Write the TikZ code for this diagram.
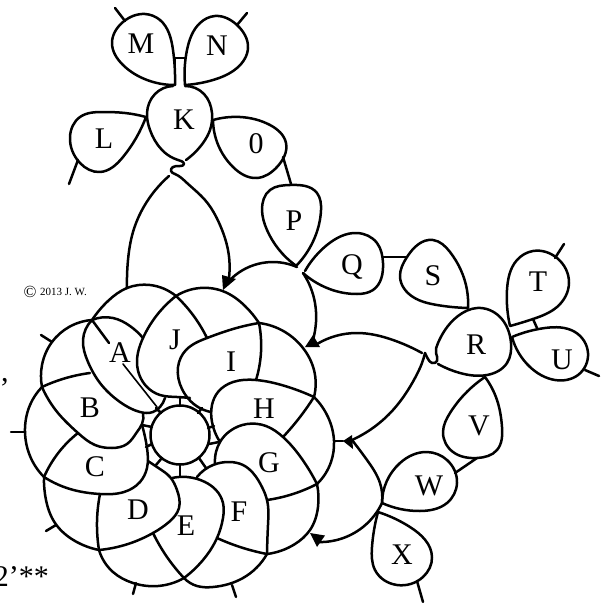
\documentclass[tikz,border=0pt]{standalone}
\usepackage{fontspec}
\setmainfont{Liberation Serif}
\usetikzlibrary{hobby}
\tikzset{
  ln/.style={draw=black,line width=2.5pt,line cap=round,line join=round,use Hobby shortcut},
  lab/.style={font=\fontsize{30}{32}\selectfont,inner sep=0pt,text=black},
  head/.style={fill=black,draw=none}
}
\begin{document}
\begin{tikzpicture}[x=1pt,y=-1pt]
\useasboundingbox (0,0) rectangle (610,602);
\clip (0,0) rectangle (610,602);
\fill[white] (0,0) rectangle (610,602);
% outer arcs of the wreath
\draw[ln] (92,320) .. (108,301) .. (127,288) .. (150,285) .. (176,296);
\draw[ln] (92,320) .. (69,327) .. (52,342) .. (42,365) .. (42,387);
\draw[ln] (42,387) .. (30,405) .. (25,432) .. (30,456) .. (44,477);
\draw[ln] (44,477) .. (46,500) .. (55,523) .. (75,541) .. (99,550);
\draw[ln] (99,550) .. (113,572) .. (133,583) .. (158,586) .. (184,578);
\draw[ln] (184,578) .. (197,586) .. (213,587) .. (243,578) .. (267,554);
\draw[ln] (267,554) .. (295,544) .. (310,530) .. (318,507) .. (317,484);
\draw[ln] (317,484) .. (331,462) .. (334,441) .. (328,417) .. (314,397);
\draw[ln] (314,397) .. (314,370) .. (303,348) .. (285,332) .. (259,323);
\draw[ln] (259,323) .. (245,306) .. (225,292) .. (200,288) .. (176,296);
% petals
\draw[ln] (92,320) .. (83,340) .. (88,362) .. (100,383) .. (120,402) .. (140,412) .. (153,412) .. (160,407) .. (165,398);
\draw[ln] (92,320) .. (113,318) .. (130,326) .. (143,338);
\draw[ln] (176,296) .. (157,315) .. (143,338) .. (137,363) .. (147,387) .. (160,395) .. (177,397) .. (190,398);
\draw[ln] (176,296) .. (193,315) .. (207,338);
\draw[ln] (259,323) .. (233,329) .. (207,338) .. (186,350) .. (178,367) .. (182,389) .. (198,407) .. (211,412);
\draw[ln] (259,323) .. (261,352) .. (256,380);
\draw[ln] (314,397) .. (285,386) .. (256,380) .. (233,382) .. (218,392) .. (212,405) .. (212,422) .. (220,442);
\draw[ln] (314,397) .. (300,417) .. (283,437);
\draw[ln] (317,484) .. (302,459) .. (283,437) .. (266,426) .. (247,424) .. (230,431) .. (220,442) .. (216,452) .. (215,464);
\draw[ln] (317,484) .. (293,494) .. (267,500);
\draw[ln] (267,554) .. (268,525) .. (267,500) .. (262,487) .. (253,473) .. (243,465) .. (230,462) .. (213,465) .. (197,477);
\draw[ln] (267,554) .. (240,547) .. (217,538);
\draw[ln] (184,578) .. (203,560) .. (217,538) .. (223,518) .. (223,503) .. (216,490) .. (205,482) .. (187,477) .. (172,478);
\draw[ln] (184,578) .. (167,557) .. (153,533);
\draw[ln] (99,550) .. (128,544) .. (153,533) .. (169,522) .. (179,508) .. (177,490) .. (170,477) .. (160,469) .. (148,461);
\draw[ln] (99,550) .. (97,522) .. (100,494);
\draw[ln] (44,477) .. (70,489) .. (100,494) .. (124,492) .. (140,482) .. (147,468) .. (147,448) .. (142,425);
\draw[ln] (44,477) .. (59,452) .. (78,433);
\draw[ln] (42,387) .. (58,413) .. (78,433) .. (95,445) .. (112,448) .. (127,444) .. (137,432) .. (142,424) .. (143,413);
\draw[ln] (42,387) .. (66,378) .. (90,373);
% line through A
\draw[ln] (92,320) -- (109,343);
\draw[ln,line width=1.6pt] (123,364) -- (157,407);
% central circle and spokes
\draw[ln] (180,435) circle[radius=29.5];
\foreach \xa/\ya/\xb/\yb in {
  180/406/180/398, 198/413/202/408, 208/428/214/426, 209/444/219/442,
  199/458/206/468, 180/465/180/476, 161/459/156/465, 152/444/146/447,
  152/427/142/425, 161/413/156/408}{
  \draw[ln] (\xa,\ya) -- (\xb,\yb);
}
% stubs of the wreath
\draw[ln] (52,342) -- (41,335);
\draw[ln] (25,432) -- (11,432);
\draw[ln] (56,525) -- (46,531);
\draw[ln] (136,583) -- (133,594);
\draw[ln] (232,585) -- (236,597);
% top group: K, knot and big loop
\draw[ln] (173,86) .. (155,94) .. (147,113) .. (150,130) .. (162,150) .. (173,158) .. (181,161) .. (184,164) .. (180,166) .. (173,167) .. (171,171) .. (175,174) .. (187,183) .. (205,200) .. (220,225) .. (228,250) .. (229,278);
\draw[ln] (185,86) .. (204,94) .. (212,113) .. (210,130) .. (203,143) .. (186,160);
\draw[ln] (169,176) .. (148,200) .. (133,232) .. (128,260) .. (127,288);
% M N L 0
\draw[ln] (175,85) .. (173,50) .. (160,20) .. (145,14) .. (123,22) .. (112,43) .. (123,65) .. (147,80) .. (175,85);
\draw[ln] (185,85) .. (187,50) .. (200,23) .. (215,16) .. (237,25) .. (248,48) .. (237,68) .. (213,80) .. (185,85);
\draw[ln] (174.5,58) -- (185.5,58);
\draw[ln] (175,58) -- (175,85);
\draw[ln] (185,58) -- (185,85);
\draw[ln] (125,21) -- (115,8);
\draw[ln] (237,25) -- (247,13);
\draw[ln] (146,117) .. (125,113) .. (103,112) .. (80,117) .. (70,137) .. (80,163) .. (100,172) .. (123,157) .. (146,117);
\draw[ln] (78,160) -- (69,184);
\draw[ln] (213,120) .. (240,117) .. (270,125) .. (286,143) .. (277,167) .. (257,178) .. (233,167) .. (213,120);
\draw[ln] (283,157) -- (291,184);
% P Q S
\draw[ln] (295,265) .. (267,230) .. (262,210) .. (270,190) .. (290,185) .. (317,193) .. (321,210) .. (315,237) .. (297,265);
\draw[ln] (305,271) .. (327,245) .. (357,233) .. (377,243) .. (383,263) .. (373,290) .. (357,294) .. (327,288) .. (303,273);
\draw[ln] (383,257) -- (407,257);
\draw[ln] (468,308) .. (467,290) .. (450,252) .. (433,240) .. (407,257) .. (400,277) .. (413,297) .. (437,305) .. (468,308);
% arcs toward wreath
\draw[ln] (297,267) .. (262,263) .. (232,278);
\draw[ln] (303,273) .. (315,303) .. (316,322) .. (313,340);
% R and its knot
\draw[ln] (438,364) .. (460,373) .. (487,375) .. (507,363) .. (511,343) .. (500,317) .. (477,308) .. (458,316) .. (445,330) .. (438,343) .. (436,353) .. (437,361) .. (432,363) .. (428,359) .. (425,353);
\draw[ln] (425,353) .. (422,363) .. (415,378) .. (393,410) .. (352,440);
\draw[ln] (422,353) .. (393,340) .. (357,333) .. (317,344);
% T U
\draw[ln] (510,326) .. (507,290) .. (517,260) .. (533,251) .. (557,258) .. (569,283) .. (557,307) .. (533,319) .. (510,326);
\draw[ln] (555,258) -- (564,244);
\draw[ln] (512,337) .. (545,328) .. (575,332) .. (588,353) .. (578,375) .. (555,380) .. (530,367) .. (512,337);
\draw[ln] (585,370) -- (599,376);
\draw[ln] (533,319) -- (537,328);
% V W X
\draw[ln] (485,377) .. (450,413) .. (443,432) .. (453,452) .. (477,458) .. (497,450) .. (502,427) .. (497,400) .. (485,377);
\draw[ln] (477,458) -- (455,473);
\draw[ln] (382,503) .. (400,463) .. (427,452) .. (447,460) .. (457,483) .. (447,503) .. (420,511) .. (382,503);
\draw[ln] (378,512) .. (410,527) .. (432,557) .. (423,577) .. (397,585) .. (375,570) .. (372,547) .. (378,512);
\draw[ln] (417,581) -- (423,602);
\draw[ln] (352,440) .. (367,460) .. (380,483) .. (382,503);
\draw[ln] (382,503) .. (363,527) .. (317,542);
% arrowheads
\fill[head] (343,441) -- (352,435) -- (353,449) -- cycle;
\fill[head] (310,533) -- (325,535.5) -- (317,547) -- cycle;
\fill[head] (305,347) -- (313,335) -- (320,347) -- cycle;
\fill[head] (223,290) -- (222,275) -- (236,279) -- cycle;
\draw[ln] (335,441) -- (343,441);
% labels
\node[lab] (lM) at (141,44) {M};
\node[lab] (lN) at (217,46) {N};
\node[lab] (lK) at (184,120) {K};
\node[lab] (lL) at (104,139) {L};
\node[lab] (l0) at (256,144) {0};
\node[lab] (lP) at (294,221) {P};
\node[lab] (lQ) at (352,267) {Q};
\node[lab] (lS) at (433,276) {S};
\node[lab] (lR) at (476,345) {R};
\node[lab] (lT) at (538,282) {T};
\node[lab] (lU) at (562,360) {U};
\node[lab] (lV) at (479,426) {V};
\node[lab] (lW) at (429,486) {W};
\node[lab] (lX) at (402,555) {X};
\node[lab] (lA) at (120,353) {A};
\node[lab] (lB) at (90,408) {B};
\node[lab] (lJ) at (175,340) {J};
\node[lab] (lI) at (231,362) {I};
\node[lab] (lH) at (264,409) {H};
\node[lab] (lG) at (269,463) {G};
\node[lab] (lC) at (95,467) {C};
\node[lab] (lD) at (138,510) {D};
\node[lab] (lE) at (186,526) {E};
\node[lab] (lF) at (239,512) {F};
\node[inner sep=0pt,font=\fontsize{17}{17}\selectfont] (copy) at (30,292) {©};
\node[inner sep=0pt,anchor=west,font=\fontsize{11}{12}\selectfont] (year) at (40,292) {2013 J. W.};
\node[inner sep=0pt,anchor=base,font=\fontsize{30}{30}\selectfont] (comma) at (5,381) {,};
\node[inner sep=0pt,anchor=base east,font=\fontsize{30}{30}\selectfont] (stars) at (49,586) {2’**};
\end{tikzpicture}
\end{document}
